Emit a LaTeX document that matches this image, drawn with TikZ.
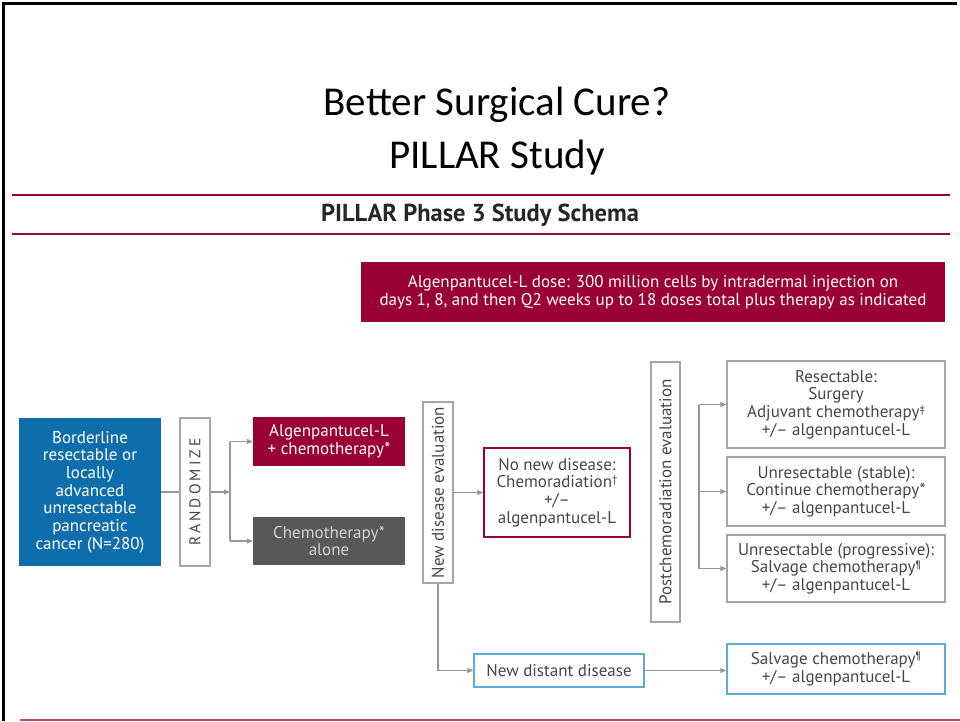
\documentclass[tikz,border=0pt]{standalone}
\usepackage{fontspec}
\setmainfont{PT Sans}
\newfontfamily\titlefont{Carlito}
\usetikzlibrary{arrows.meta}

\definecolor{pillarred}{RGB}{155,0,52}
\definecolor{pillarblue}{RGB}{14,110,172}
\definecolor{edgeblue}{RGB}{95,170,215}
\definecolor{armgray}{RGB}{88,88,88}
\definecolor{armtext}{RGB}{210,210,210}
\definecolor{boxgray}{RGB}{165,165,165}
\definecolor{txtgray}{RGB}{70,70,70}
\definecolor{linegray}{RGB}{150,150,150}

\newcommand{\fnmark}[1]{\raisebox{4.5pt}{\fontsize{11}{11}\selectfont #1}}

\tikzset{
  every node/.style={inner sep=0pt, align=center, font=\fontsize{17}{17.7}\selectfont},
  greybox/.style={draw=boxgray, line width=1.2pt, text=txtgray},
  bluebox/.style={draw=edgeblue, line width=1.4pt, text=txtgray},
  redbox/.style={draw=pillarred, line width=1.4pt, text=txtgray},
  flow/.style={draw=linegray, line width=1.2pt},
  conn/.style={flow, -{Triangle[length=6pt,width=5pt]}},
  rule/.style={draw=pillarred, line width=2.5pt}
}

\begin{document}
\begin{tikzpicture}[x=1pt,y=-1pt]
  \useasboundingbox (0,0) rectangle (960,721);
  % slide frame and title
  \draw[line width=3pt] (3,721) -- (3,3) -- (957,3);
  \node[font=\titlefont\fontsize{41}{53}\selectfont] (title) at (497,131)
    {Better Surgical Cure?\\PILLAR Study};
  \draw[rule] (12,195) -- (950,195);
  \draw[rule] (12,234) -- (950,234);
  \node[font=\bfseries\fontsize{24.5}{26}\selectfont, text=black!85] (schema) at (480,215)
    {PILLAR Phase 3 Study Schema};
  \draw[draw=pillarred!70, line width=2pt] (20,719.5) -- (960,719.5);

  % dose banner
  \node[fill=pillarred, text=white, minimum width=584, minimum height=60] (dose) at (653,292)
    {Algenpantucel-L dose: 300 million cells by intradermal injection on\\
     days 1, 8, and then Q2 weeks up to 18 doses total plus therapy as indicated};

  % left part
  \node[fill=pillarblue, text=white, minimum width=142, minimum height=148] (pop) at (90,492)
    {Borderline\\resectable or\\locally\\advanced\\unresectable\\pancreatic\\cancer (N=280)};
  \node[greybox, rotate=90, minimum width=148, minimum height=30,
        font=\fontsize{15.5}{17}\selectfont\addfontfeature{LetterSpace=20}] (rand) at (195,492)
    {RANDOMIZE};
  \node[fill=pillarred, text=white, minimum width=152, minimum height=49] (armA) at (329,441.5)
    {Algenpantucel-L\\+ chemotherapy*};
  \node[fill=armgray, text=armtext, minimum width=152, minimum height=48] (armB) at (329,541)
    {Chemotherapy*\\alone};
  \coordinate (split) at (230,492);

  % middle part
  \node[greybox, rotate=90, minimum width=181, minimum height=30] (nde) at (438,492.5)
    {New disease evaluation};
  \node[redbox, minimum width=146, minimum height=89] (nonew) at (557,492.5)
    {No new disease:\\Chemoradiation\fnmark{†}\\+/–\\algenpantucel-L};
  \node[bluebox, minimum width=170, minimum height=33] (distant) at (559,670.5)
    {New distant disease};

  % right part
  \node[greybox, rotate=90, minimum width=260, minimum height=29] (post) at (665.5,492)
    {Postchemoradiation evaluation};
  \node[greybox, minimum width=218, minimum height=87] (res) at (836,404.5)
    {Resectable:\\Surgery\\Adjuvant chemotherapy\fnmark{‡}\\+/– algenpantucel-L};
  \node[greybox, minimum width=218, minimum height=69] (stab) at (836,491.5)
    {Unresectable (stable):\\Continue chemotherapy*\\+/– algenpantucel-L};
  \node[greybox, minimum width=218, minimum height=67] (prog) at (836,568.5)
    {Unresectable (progressive):\\Salvage chemotherapy\fnmark{¶}\\+/– algenpantucel-L};
  \node[bluebox, minimum width=218, minimum height=50] (salv) at (836,669)
    {Salvage chemotherapy\fnmark{¶}\\+/– algenpantucel-L};
  \coordinate (fork) at (699,492);

  % connectors
  \draw[flow] (pop) -- (rand);
  \draw[conn] (rand) -- (split);
  \draw[flow] (split |- armA) -- (split |- armB);
  \draw[conn] (split |- armA) -- (armA);
  \draw[conn] (split |- armB) -- (armB);
  \draw[conn] (nde) -- (nonew);
  \draw[conn] (nde.west) |- (distant);
  \draw[conn] (distant.east) -- (distant.east -| salv.west);
  \draw[flow] (fork |- res) -- (fork |- prog);
  \draw[conn] (fork |- res) -- (res);
  \draw[conn] (fork |- stab) -- (stab);
  \draw[conn] (fork |- prog) -- (prog);
\end{tikzpicture}
\end{document}
